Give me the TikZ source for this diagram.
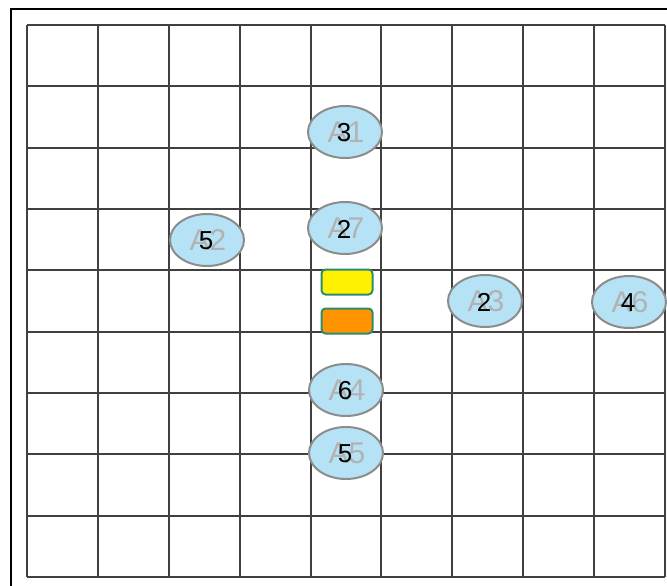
\documentclass[tikz,border=0pt]{standalone}
\usepackage{fontspec}
\setmainfont{Liberation Sans}
\usetikzlibrary{shapes.geometric}
\begin{document}
\begin{tikzpicture}[x=1pt,y=-1pt,
  gridline/.style={draw=black!75,line width=1.8pt},
  agent/.style={ellipse,draw=black!45,line width=2pt,fill=agentblue,minimum width=74pt,minimum height=52pt,inner sep=0pt},
  pad/.style={draw=padgreen,line width=2pt,rounded corners=4pt,minimum width=51pt,minimum height=25pt,inner sep=0pt},
  glabel/.style={text=black!30,font=\fontsize{30}{30}\selectfont,inner sep=0pt},
  blabel/.style={text=black,font=\fontsize{26}{26}\selectfont,inner sep=0pt}]
\definecolor{agentblue}{HTML}{B5E3F5}
\definecolor{padgreen}{HTML}{2E8B6E}
\useasboundingbox (0,0) rectangle (667,586);
\fill[white] (0,0) rectangle (667,586);
% outer frame
\draw[black,line width=2pt] (11,586) -- (11,9) -- (667,9);
% grid
\foreach \gx in {27,98,169,240,311,381,452,523,594,665}
  \draw[gridline] (\gx,25) -- (\gx,577);
\foreach \gy in {25,86,148,209,270,332,393,454,516,577}
  \draw[gridline] (27,\gy) -- (665,\gy);
% pads
\node[pad,fill=yellow] (py) at (347,282) {};
\node[pad,fill=orange!85!yellow] (po) at (347,321) {};
% agents
\foreach \name/\x/\y/\g/\b in {a1/345/132/A1/3, a7/345/228/A7/2, a2/207/240/A2/5, a3/485/301/A3/2, a6/629/302/A6/4, a4/346/390/A4/6, a5/346/453/A5/5} {
  \node[agent] (\name) at (\x,\y) {};
  \node[glabel] (\name g) at (\x+1,\y) {\g};
  \node[blabel] (\name b) at (\x-1,\y+1) {\b};
}
\end{tikzpicture}
\end{document}
